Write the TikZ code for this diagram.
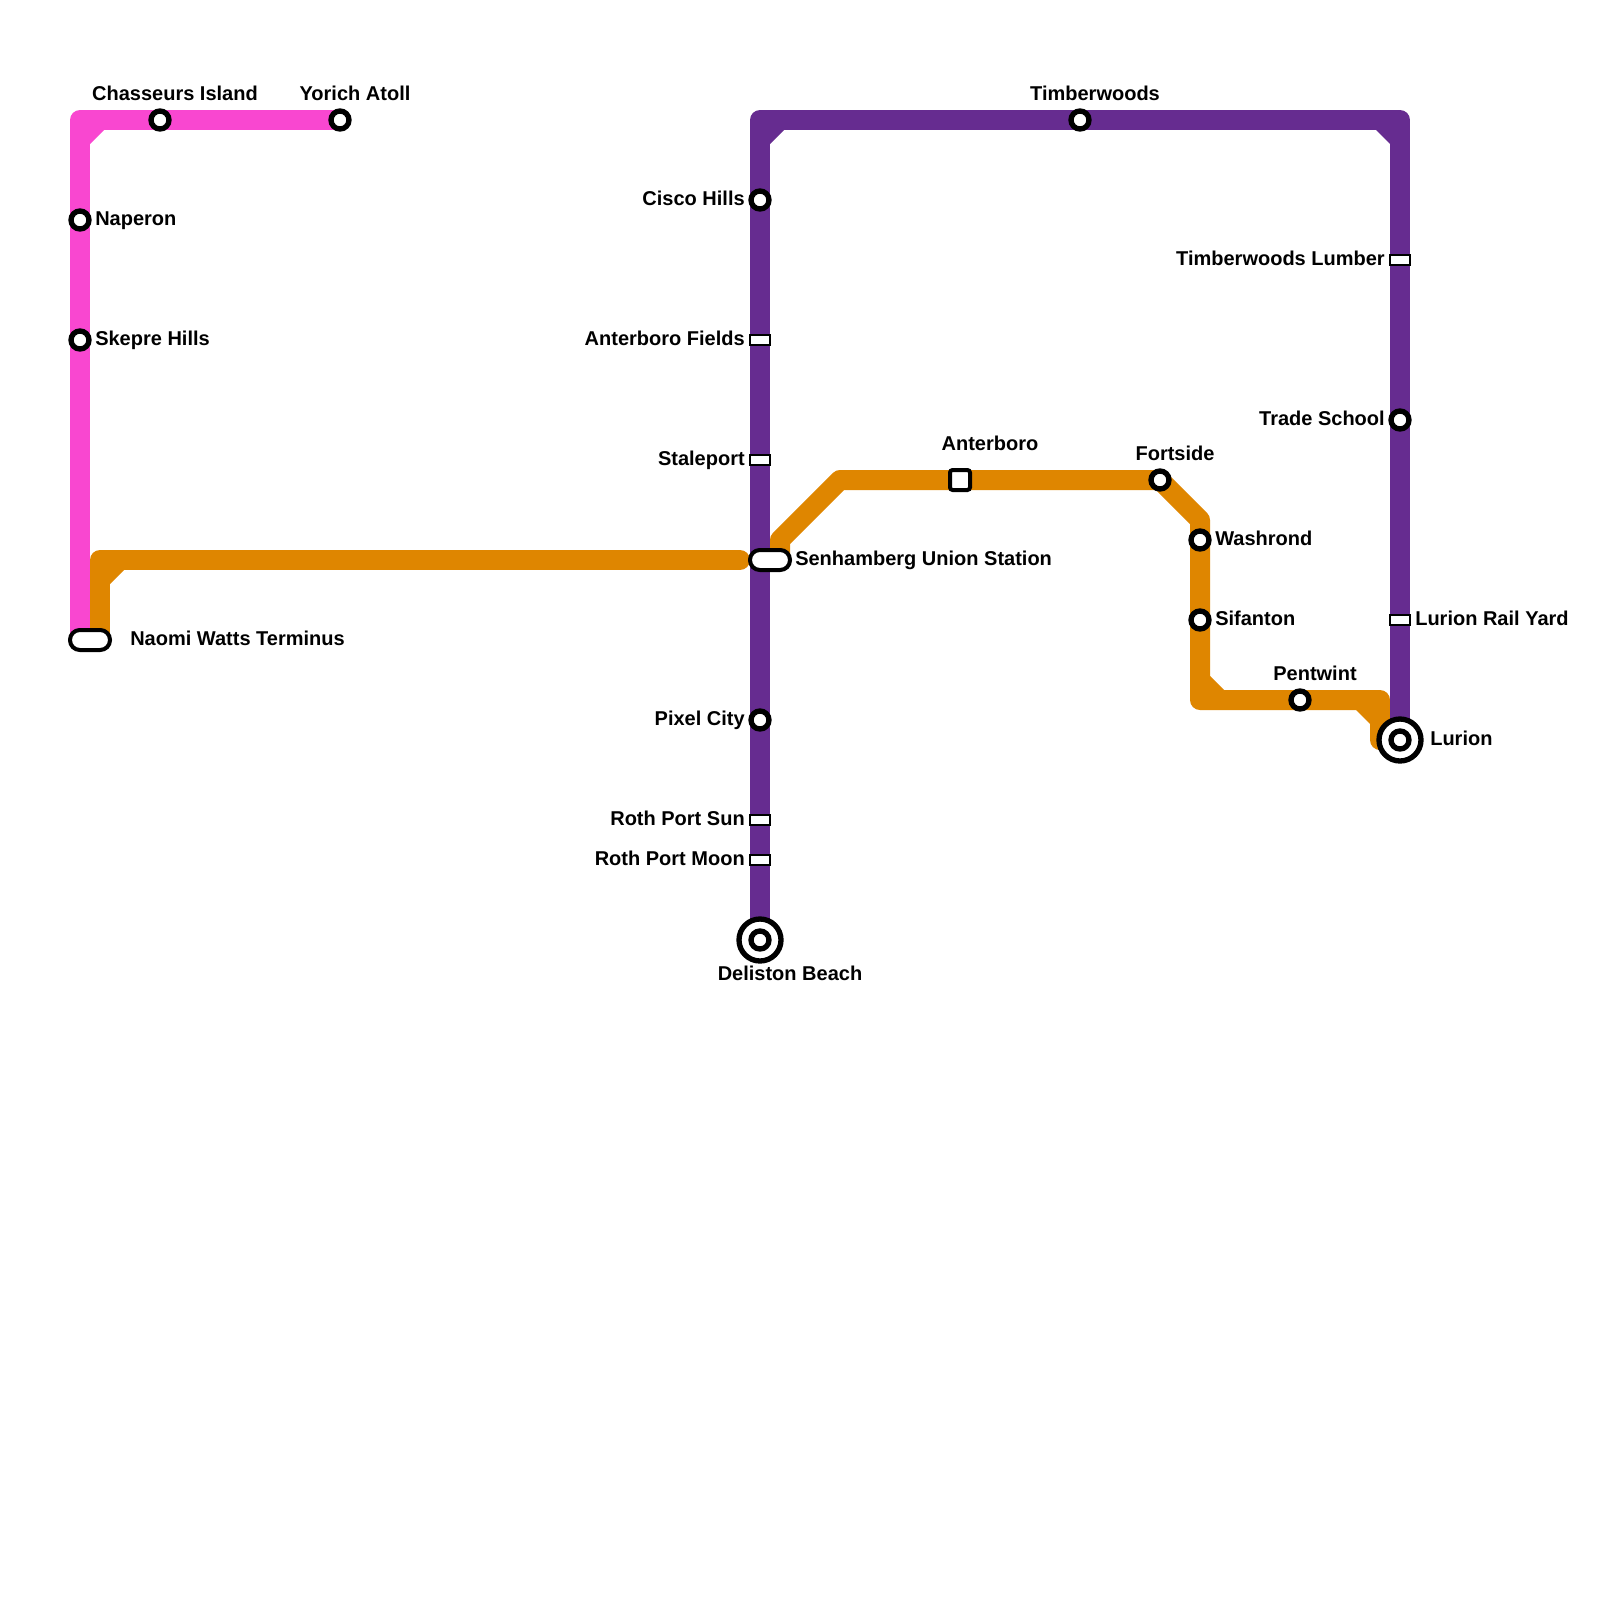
\documentclass[tikz,border=0pt]{standalone}
\usepackage{fontspec}
\setmainfont{Liberation Sans}
\usetikzlibrary{backgrounds}

\definecolor{pinkline}{HTML}{F947D0}
\definecolor{purpleline}{HTML}{662C90}
\definecolor{orangeline}{HTML}{DF8600}

\tikzset{
    metroline/.style={line width=15pt,line join=round,line cap=round},
    stop/.style={circle,draw=black,fill=white,line width=4pt,minimum size=13.5pt,inner sep=0pt},
    bigstop/.style={stop,minimum size=31.5pt},
    railstop/.style={rectangle,draw=black,fill=white,line width=1.5pt,minimum width=15pt,minimum height=7pt,inner sep=0pt},
    squarestop/.style={rectangle,rounded corners=2pt,draw=black,fill=white,line width=3pt,minimum size=15pt,inner sep=0pt},
    unionstop/.style={rectangle,rounded corners=7.4pt,draw=black,fill=white,line width=3pt,minimum width=30pt,minimum height=15pt,inner sep=0pt},
    lbl/.style={inner sep=0pt,font=\fontsize{15}{18}\selectfont\bfseries},
    lblright/.style={lbl,anchor=base west},
    lblleft/.style={lbl,anchor=base east},
    lblabove/.style={lbl,anchor=base},
}

\begin{document}
\begin{tikzpicture}[x=0.75pt,y=-0.75pt]
    \useasboundingbox (0,0) rectangle (1600,1600);

    % line ends and corners
    \coordinate (pinkcorner) at (80,120);
    \coordinate (pinkend) at (80,640);
    \coordinate (orangewest) at (100,640);
    \coordinate (orangecorner) at (100,560);
    \coordinate (orangemid) at (740,560);
    \coordinate (orangeeast) at (780,560);
    \coordinate (orangeup) at (780,540);
    \coordinate (orangetop) at (840,480);
    \coordinate (orangebend) at (1200,520);
    \coordinate (orangelow) at (1200,700);
    \coordinate (orangeright) at (1380,700);
    \coordinate (orangeend) at (1380,740);
    \coordinate (purplewest) at (760,120);
    \coordinate (purpleeast) at (1400,120);

    % stations
    \node[stop] (chasseurs) at (160,120) {};
    \node[stop] (yorich) at (340,120) {};
    \node[stop] (naperon) at (80,220) {};
    \node[stop] (skepre) at (80,340) {};
    \node[unionstop] (naomi) at (90,640) {};
    \node[stop] (cisco) at (760,200) {};
    \node[railstop] (fields) at (760,340) {};
    \node[railstop] (staleport) at (760,460) {};
    \node[unionstop] (senhamberg) at (770,560) {};
    \node[stop] (pixel) at (760,720) {};
    \node[railstop] (portsun) at (760,820) {};
    \node[railstop] (portmoon) at (760,860) {};
    \node[bigstop] (deliston) at (760,940) {};
    \node[stop] (delistoninner) at (760,940) {};
    \node[stop] (timberwoods) at (1080,120) {};
    \node[railstop] (lumber) at (1400,260) {};
    \node[stop] (trade) at (1400,420) {};
    \node[railstop] (railyard) at (1400,620) {};
    \node[bigstop] (lurion) at (1400,740) {};
    \node[stop] (lurioninner) at (1400,740) {};
    \node[squarestop] (anterboro) at (960,480) {};
    \node[stop] (fortside) at (1160,480) {};
    \node[stop] (washrond) at (1200,540) {};
    \node[stop] (sifanton) at (1200,620) {};
    \node[stop] (pentwint) at (1300,700) {};

    % lines
    \begin{scope}[on background layer]
        \draw[metroline,pinkline] (yorich.center) -- (chasseurs.center) -- (pinkcorner) -- (naperon.center) -- (skepre.center) -- (pinkend);
        \draw[metroline,orangeline] (orangewest) -- (orangecorner) -- (orangemid);
        \draw[metroline,orangeline] (orangeeast) -- (orangeup) -- (orangetop) -- (anterboro.center) -- (fortside.center) -- (orangebend) -- (washrond.center) -- (sifanton.center) -- (orangelow) -- (pentwint.center) -- (orangeright) -- (orangeend);
        \draw[metroline,purpleline] (deliston.center) -- (portmoon.center) -- (portsun.center) -- (pixel.center) -- (staleport.center) -- (fields.center) -- (cisco.center) -- (purplewest) -- (timberwoods.center) -- (purpleeast) -- (lumber.center) -- (trade.center) -- (railyard.center) -- (lurion.center);

        % inner corners
        \fill[pinkline] (pinkcorner) ++(10,10) -- ++(14,0) -- ++(-14,14) -- cycle;
        \fill[orangeline] (orangecorner) ++(10,10) -- ++(14,0) -- ++(-14,14) -- cycle;
        \fill[purpleline] (purplewest) ++(10,10) -- ++(14,0) -- ++(-14,14) -- cycle;
        \fill[purpleline] (purpleeast) ++(-10,10) -- ++(-14,0) -- ++(14,14) -- cycle;
        \fill[orangeline] (orangelow) ++(10,-10) -- ++(14,0) -- ++(-14,-14) -- cycle;
        \fill[orangeline] (orangeright) ++(-10,10) -- ++(-14,0) -- ++(14,14) -- cycle;
    \end{scope}

    % labels
    \node[lblabove] (chasseurslbl) at (175,100) {Chasseurs Island};
    \node[lblabove] (yorichlbl) at (355,100) {Yorich Atoll};
    \node[lblright] (naperonlbl) at (95,225) {Naperon};
    \node[lblright] (skeprelbl) at (95,345) {Skepre Hills};
    \node[lblright] (naomilbl) at (130,645) {Naomi Watts Terminus};
    \node[lblleft] (ciscolbl) at (745,205) {Cisco Hills};
    \node[lblleft] (fieldslbl) at (745,345) {Anterboro Fields};
    \node[lblleft] (staleportlbl) at (745,465) {Staleport};
    \node[lblright] (senhamberglbl) at (795,565) {Senhamberg Union Station};
    \node[lblleft] (pixellbl) at (745,725) {Pixel City};
    \node[lblleft] (portsunlbl) at (745,825) {Roth Port Sun};
    \node[lblleft] (portmoonlbl) at (745,865) {Roth Port Moon};
    \node[lblabove] (delistonlbl) at (790,980) {Deliston Beach};
    \node[lblabove] (timberwoodslbl) at (1095,100) {Timberwoods};
    \node[lblleft] (lumberlbl) at (1385,265) {Timberwoods Lumber};
    \node[lblleft] (tradelbl) at (1385,425) {Trade School};
    \node[lblright] (railyardlbl) at (1415,625) {Lurion Rail Yard};
    \node[lblright] (lurionlbl) at (1430,745) {Lurion};
    \node[lblabove] (anterborolbl) at (990,450) {Anterboro};
    \node[lblabove] (fortsidelbl) at (1175,460) {Fortside};
    \node[lblright] (washrondlbl) at (1215,545) {Washrond};
    \node[lblright] (sifantonlbl) at (1215,625) {Sifanton};
    \node[lblabove] (pentwintlbl) at (1315,680) {Pentwint};
\end{tikzpicture}
\end{document}
